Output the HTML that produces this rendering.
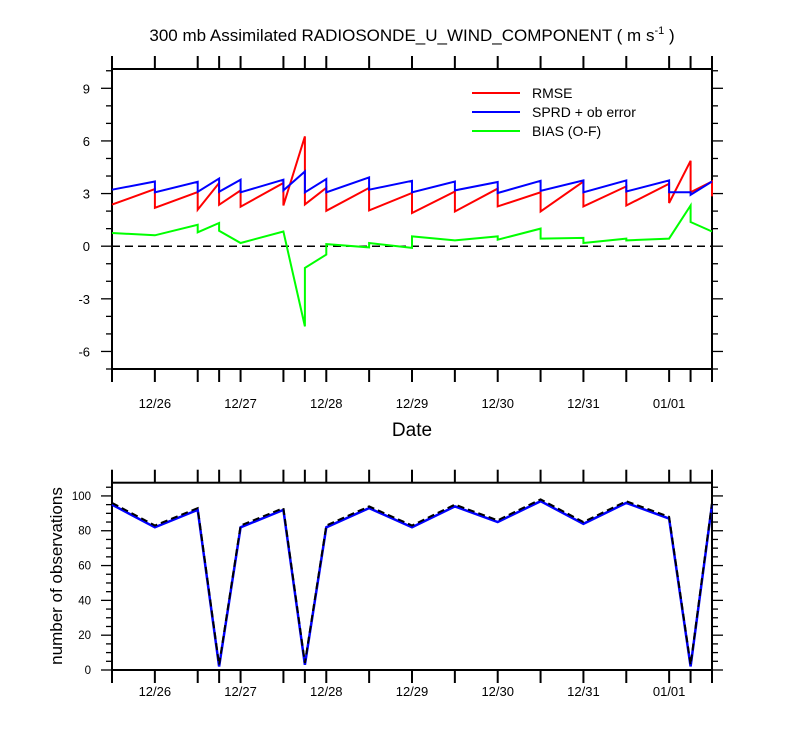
<!DOCTYPE html>
<html><head><meta charset="utf-8"><style>
html,body{margin:0;padding:0;background:#fff;}
svg{display:block;font-family:"Liberation Sans",Arial,sans-serif;}
</style></head><body>
<svg id="chart" width="800" height="750" viewBox="0 0 800 750" xmlns="http://www.w3.org/2000/svg">
<text x="412" y="41" font-size="17" text-anchor="middle">300 mb Assimilated RADIOSONDE_U_WIND_COMPONENT ( m s<tspan font-size="11" dy="-7">-1</tspan><tspan dy="7"> )</tspan></text>
<text x="412" y="436" font-size="19" text-anchor="middle">Date</text>
<text transform="translate(62,576) rotate(-90)" font-size="17" text-anchor="middle">number of observations</text>
<g id="topPanel"></g>
<g id="botPanel"></g>
<g>
<line x1="472" y1="93" x2="520" y2="93" stroke="#f00" stroke-width="2"/><text x="532" y="98" font-size="14">RMSE</text>
<line x1="472" y1="112" x2="520" y2="112" stroke="#00f" stroke-width="2"/><text x="532" y="117" font-size="14">SPRD + ob error</text>
<line x1="472" y1="131" x2="520" y2="131" stroke="#0f0" stroke-width="2"/><text x="532" y="136" font-size="14">BIAS (O-F)</text>
</g>
</svg>
<script>
// hours since 12/25 12Z
const tickHours = [0,12,24,30,36,48,54,60,72,84,96,108,120,132,144,156,162,168];
const dateLabels = ["12/26","12/27","12/28","12/29","12/30","12/31","01/01"];
const dateHours = [12,36,60,84,108,132,156];
const rmseT = [0,12,12,24,24,30,30,36,36,48,48,54,54,60,60,72,72,84,84,96,96,108,108,120,120,132,132,144,144,156,156,162,162,168,168];
const rmseV = [2.37,3.26,2.19,3.09,2.08,3.6,2.36,3.18,2.25,3.6,2.32,6.26,2.38,3.33,2.02,3.32,2.04,3.03,1.89,3.12,1.98,3.28,2.27,3.07,1.98,3.69,2.27,3.41,2.32,3.56,2.46,4.87,3.07,3.69,2.84];
const sprdT = [0,12,12,24,24,30,30,36,36,48,48,54,54,60,60,72,72,84,84,96,96,108,108,120,120,132,132,144,144,156,156,162,162,168];
const sprdV = [3.22,3.69,3.07,3.67,3.1,3.86,3.1,3.79,3.07,3.79,3.18,4.26,3.07,3.83,3.07,3.92,3.22,3.73,3.07,3.69,3.18,3.66,3.03,3.73,3.16,3.75,3.07,3.75,3.12,3.75,3.07,3.07,2.93,3.69];
const biasT = [0,12,24,24,30,30,36,48,54,54,60,60,72,72,84,84,96,108,108,120,120,132,132,144,144,156,162,162,168];
const biasV = [0.75,0.62,1.22,0.79,1.32,0.88,0.18,0.84,-4.57,-1.24,-0.48,0.12,-0.07,0.18,-0.1,0.56,0.33,0.56,0.37,1.0,0.43,0.47,0.18,0.43,0.33,0.43,2.32,1.38,0.84];
const obsT = [0,12,24,30,36,48,54,60,72,84,96,108,120,132,144,156,162,168];
const obsUsed = [95,82,92,2,82,92,3,82,93,82,94,85,97,84,96,87,2,95];
const obsTotal = [96,83,93,3,83,93,4,83,94,83,95,86,98,85,97,88,3,96];
const topTicks = [-6,-3,0,3,6,9];
const botTicks = [0,20,40,60,80,100];

const NS="http://www.w3.org/2000/svg";
const X0=112,X1=712;
const xs=h=>X0+(X1-X0)*h/168;
const T0=69,T1=369, tmin=-7.0, tmax=10.1;
const yt=v=>T1-(v-tmin)/(tmax-tmin)*(T1-T0);
const B0=482.7,B1=670, bmax=107.6;
const yb=v=>B1-v/bmax*(B1-B0);
function mk(tag,attrs,parent){const e=document.createElementNS(NS,tag);for(const k in attrs)e.setAttribute(k,attrs[k]);parent.appendChild(e);return e;}
const topG=document.getElementById('topPanel'), botG=document.getElementById('botPanel');

function panel(g,y0,y1,name){
  const r=mk('rect',{x:X0,y:y0,width:X1-X0,height:y1-y0,fill:'none',stroke:'#000','stroke-width':2},g);
  
  
  tickHours.forEach(h=>{
    mk('line',{x1:xs(h),y1:y0,x2:xs(h),y2:y0-13,stroke:'#000','stroke-width':2},g);
    mk('line',{x1:xs(h),y1:y1,x2:xs(h),y2:y1+13,stroke:'#000','stroke-width':2},g);
  });
}
function path(g,T,V,fy,color,w,dash,name){
  let d=T.map((t,i)=>(i?'L':'M')+xs(t).toFixed(1)+' '+fy(V[i]).toFixed(1)).join(' ');
  const p=mk('path',{d:d,fill:'none',stroke:color,'stroke-width':w,'stroke-linejoin':'miter'},g);
  if(dash)p.setAttribute('stroke-dasharray',dash);
  
  
}
// top panel
panel(topG,T0,T1,'top');
for(let v=-7;v<=10;v++){
  const major=(v%3===0);
  mk('line',{x1:X0,y1:yt(v),x2:X0-(major?11:6),y2:yt(v),stroke:'#000','stroke-width':1.3},topG);
  mk('line',{x1:X1,y1:yt(v),x2:X1+(major?11:6),y2:yt(v),stroke:'#000','stroke-width':1.3},topG);
}
topTicks.forEach(v=>{
  const t=mk('text',{x:90,y:yt(v)+5,'font-size':13,'text-anchor':'end'},topG);
  t.textContent=String(v);
  
  
});
mk('line',{x1:X0,y1:yt(0),x2:X1,y2:yt(0),stroke:'#000','stroke-width':1.5,'stroke-dasharray':'8,5'},topG);
dateHours.forEach((h,i)=>{
  const t=mk('text',{x:xs(h),y:408,'font-size':13,'text-anchor':'middle'},topG);
  t.textContent=dateLabels[i];
  
  
});
path(topG,biasT,biasV,yt,'#00ff00',2,null,'bias-line');
path(topG,rmseT,rmseV,yt,'#ff0000',2,null,'rmse-line');
path(topG,sprdT,sprdV,yt,'#0000ff',2,null,'sprd-line');
// bottom panel
panel(botG,B0,B1,'bottom');
for(let v=0;v<=105;v+=5){
  const major=(v%20===0);
  mk('line',{x1:X0,y1:yb(v),x2:X0-(major?11:6),y2:yb(v),stroke:'#000','stroke-width':1.3},botG);
  mk('line',{x1:X1,y1:yb(v),x2:X1+(major?11:6),y2:yb(v),stroke:'#000','stroke-width':1.3},botG);
}
botTicks.forEach(v=>{
  const t=mk('text',{x:91,y:yb(v)+4,'font-size':11.5,'text-anchor':'end'},botG);
  t.textContent=String(v);
  
  
});
dateHours.forEach((h,i)=>{
  const t=mk('text',{x:xs(h),y:696,'font-size':13,'text-anchor':'middle'},botG);
  t.textContent=dateLabels[i];
  
  
});
path(botG,obsT,obsUsed,yb,'#0000ff',2.5,null,'obs-assimilated-line');
path(botG,obsT,obsTotal,yb,'#000',2,'7,4','obs-total-line');
</script>
</body></html>
